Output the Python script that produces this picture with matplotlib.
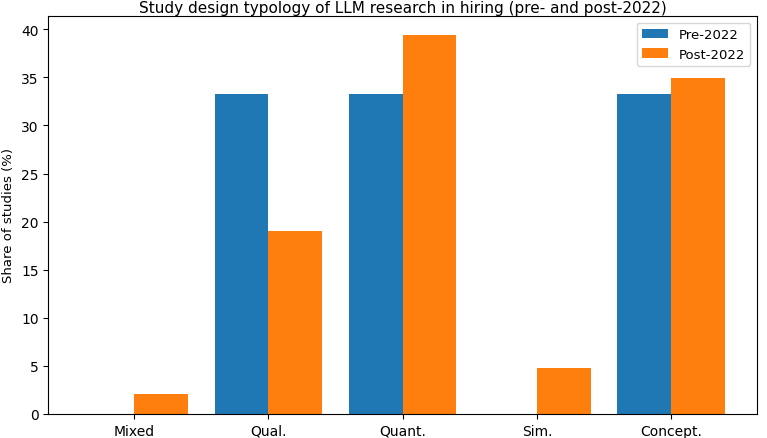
import numpy as np
import matplotlib.pyplot as plt

# Study design shares (%)
categories = ['Mixed', 'Qual.', 'Quant.', 'Sim.', 'Concept.']
pre_2022 = [0, 33.3, 33.3, 0, 33.3]
post_2022 = [2.1, 19.0, 39.4, 4.8, 34.9]

x = np.arange(len(categories))
width = 0.4

fig, ax = plt.subplots(figsize=(7.67, 4.39), dpi=100)
ax.bar(x - width / 2, pre_2022, width, label='Pre-2022')
ax.bar(x + width / 2, post_2022, width, label='Post-2022')

ax.set_xticks(x)
ax.set_xticklabels(categories)
ax.set_ylabel('Share of studies (%)', fontsize=9.5)
ax.set_title('Study design typology of LLM research in hiring (pre- and post-2022)',
             fontsize=11, pad=3)
ax.legend(fontsize=9.5)

fig.subplots_adjust(left=0.063, right=0.987, top=0.961, bottom=0.055)
fig.savefig('out.png', dpi=100)
